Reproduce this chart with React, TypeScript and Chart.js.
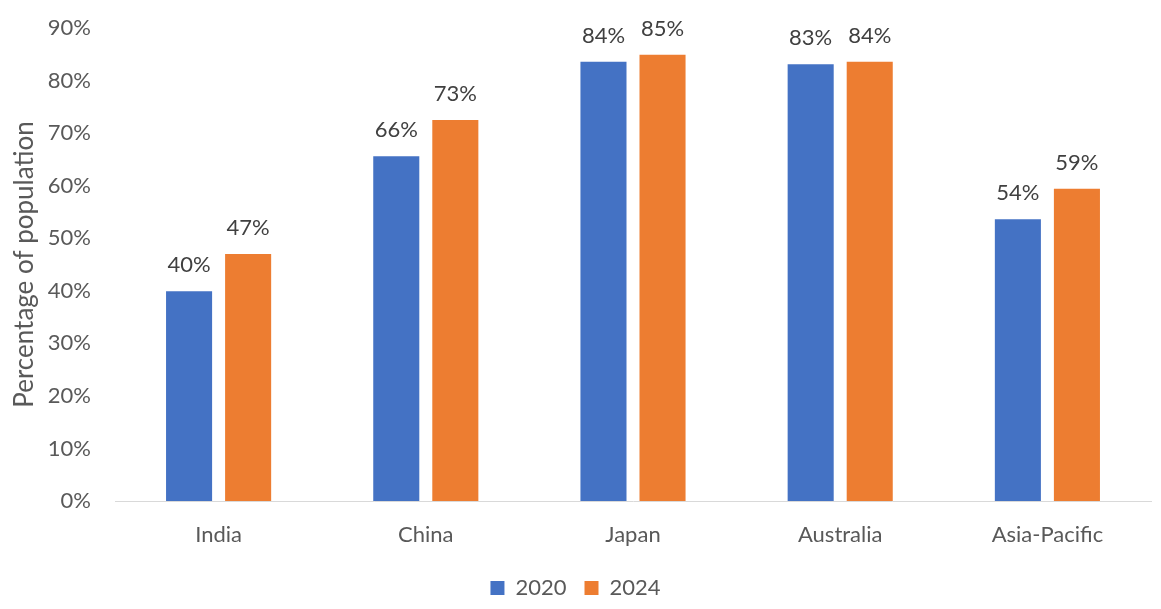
import React, { useEffect, useRef } from "react";
import { Chart, registerables } from "chart.js";

Chart.register(...registerables);

const categories = ["India", "China", "Japan", "Australia", "Asia-Pacific"];
const series2020 = [39.9, 65.6, 83.6, 83.1, 53.6];
const series2024 = [47.0, 72.5, 84.9, 83.6, 59.4];
const seriesNames = ["2020", "2024"];
const yTickMax = 90;
const yTickStep = 10;
const yTitle = "Percentage of population";

const FONT = "Lato, 'Open Sans', 'Liberation Sans', sans-serif";
const BLUE = "#4472C4";
const ORANGE = "#ED7D31";

const valueLabels = {
  id: "valueLabels",
  afterDatasetsDraw(chart: any) {
    const { ctx } = chart;
    ctx.save();
    ctx.font = `22px ${FONT}`;
    ctx.fillStyle = "#404040";
    ctx.textAlign = "center";
    ctx.textBaseline = "alphabetic";
    chart.data.datasets.forEach((ds: any, i: number) => {
      const meta = chart.getDatasetMeta(i);
      meta.data.forEach((bar: any, j: number) => {
        const v = ds.data[j];
        ctx.fillText(`${Math.round(v)}%`, bar.x, bar.y - 19);
      });
    });
    ctx.restore();
  },
};

export default function App() {
  const ref = useRef<HTMLCanvasElement | null>(null);
  useEffect(() => {
    if (!ref.current) return;
    const chart = new Chart(ref.current, {
      type: "bar",
      data: {
        labels: categories,
        datasets: [
          {
            label: seriesNames[0],
            data: series2020,
            backgroundColor: BLUE,
            categoryPercentage: 0.57,
            barPercentage: 0.78,
          },
          {
            label: seriesNames[1],
            data: series2024,
            backgroundColor: ORANGE,
            categoryPercentage: 0.57,
            barPercentage: 0.78,
          },
        ],
      },
      options: {
        animation: false,
        responsive: true,
        maintainAspectRatio: false,
        layout: { padding: { top: 28, right: 10, left: 0, bottom: 0 } },
        plugins: {
          legend: {
            position: "bottom",
            labels: {
              boxWidth: 14,
              boxHeight: 14,
              padding: 18,
              color: "#595959",
              font: { family: FONT, size: 22 },
            },
          },
          tooltip: { enabled: false },
        },
        scales: {
          x: {
            grid: { display: false, drawTicks: false },
            border: { display: true, color: "#D9D9D9", width: 1 },
            ticks: {
              color: "#595959",
              padding: 21,
              font: { family: FONT, size: 22 },
            },
            afterFit(scale: any) {
              scale.height = 58;
            },
          },
          y: {
            min: 0,
            max: yTickMax,
            grid: { display: false, drawTicks: false },
            border: { display: false },
            ticks: {
              stepSize: yTickStep,
              color: "#595959",
              padding: 24,
              font: { family: FONT, size: 22 },
              callback: (v: any) => `${v}%`,
            },
            title: {
              display: true,
              text: yTitle,
              color: "#595959",
              font: { family: FONT, size: 26 },
              padding: { top: 9, bottom: 0 },
            },
            afterFit(scale: any) {
              scale.width = 115;
              scale.paddingTop = 0;
              scale.paddingBottom = 0;
            },
          },
        },
      },
      plugins: [valueLabels],
    });
    return () => chart.destroy();
  }, []);
  return (
    <div style={{ position: "absolute", left: 0, top: 0, width: 1161, height: 609, background: "#fff" }}>
      <canvas ref={ref} />
    </div>
  );
}
